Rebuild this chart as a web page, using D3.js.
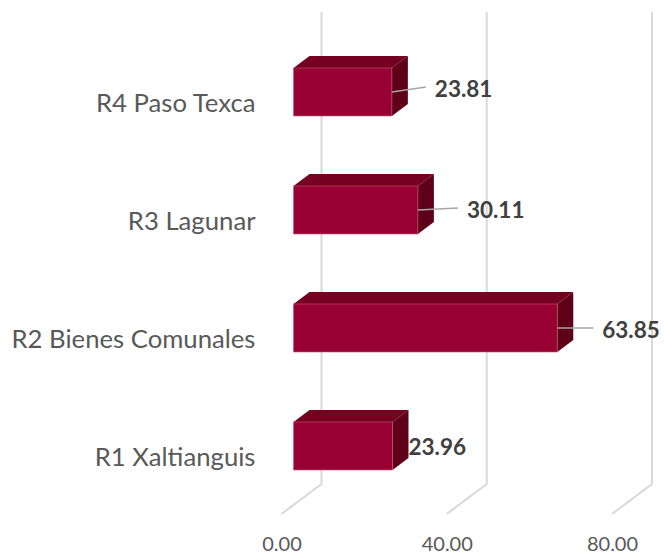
<!DOCTYPE html>
<html>
<head>
<meta charset="utf-8">
<script src="https://cdn.jsdelivr.net/npm/d3@7"></script>
<style>
  body { margin: 0; background: #fff; }
  svg { display: block; font-family: Lato, "Open Sans", sans-serif; }
</style>
</head>
<body>
<div id="chart"></div>
<script>
// data
const categories = ["R1 Xaltianguis", "R2 Bienes Comunales", "R3 Lagunar", "R4 Paso Texca"];
const values = [23.96, 63.85, 30.11, 23.81];
const tickValues = [0, 40, 80];

// manual data label shifts (Excel moved labels), px from bar front edge
const labelShift = [{dx: 16, dy: 1}, {dx: 45, dy: 2}, {dx: 49, dy: 0}, {dx: 43, dy: -3}];

const width = 665, height = 554;
const back = {top: 12, bottom: 484, left: 321.5, right: 652};
const depth = {dx: -40, dy: 30};   // back wall -> front of floor
const barFront = 0.7, barBack = 0.3; // bar depth position (0 = back wall)
const barH = 48;

const svg = d3.select("#chart").append("svg")
    .attr("width", width).attr("height", height);

// x scale on the back wall
const x = d3.scaleLinear().domain([0, 80]).range([back.left, back.right]);
const y = d3.scaleBand()
    .domain(categories.slice().reverse())
    .range([back.top, back.bottom]);

// gridlines: back wall + floor diagonal
svg.append("g").selectAll("path")
    .data(tickValues)
    .join("path")
    .attr("d", d => `M${x(d)},${back.top}V${back.bottom}l${depth.dx},${depth.dy}`)
    .attr("fill", "none")
    .attr("stroke", "#d9d9d9")
    .attr("stroke-width", 2);

// axis labels at the front edge of the floor
const xFront = x.copy().range([back.left + depth.dx, back.right + depth.dx]);
const axis = svg.append("g")
    .attr("transform", `translate(0,${back.bottom + depth.dy + 20})`)
    .call(d3.axisBottom(xFront).tickValues(tickValues).tickSize(0).tickFormat(d3.format(".2f")));
axis.select(".domain").remove();
axis.selectAll("text")
    .attr("font-family", "Lato, sans-serif")
    .attr("font-size", 20)
    .attr("fill", "#595959");

// category labels
svg.append("g").selectAll("text")
    .data(categories)
    .join("text")
    .attr("x", back.left + depth.dx - 26)
    .attr("y", d => y(d) + y.bandwidth() / 2 + depth.dy + 2)
    .attr("dy", "0.35em")
    .attr("text-anchor", "end")
    .attr("font-size", 25.7)
    .attr("fill", "#595959")
    .text(d => d);

// 3D bars
const fx = barFront * depth.dx, fy = barFront * depth.dy;
const bx = barBack * depth.dx, by = barBack * depth.dy;
const sx = bx - fx, sy = by - fy;

const bars = svg.append("g").selectAll("g")
    .data(categories.map((c, i) => ({cat: c, v: values[i], i: i})))
    .join("g");

bars.each(function(d) {
    const g = d3.select(this);
    const x0 = x(0) + fx, x1 = x(d.v) + fx;
    const yt = y(d.cat) + y.bandwidth() / 2 - barH / 2 + fy;
    const yb = yt + barH;
    // top face
    g.append("path")
        .attr("d", `M${x0},${yt}L${x0 + sx},${yt + sy}L${x1 + sx},${yt + sy}L${x1},${yt}Z`)
        .attr("fill", "#76001f");
    // side face
    g.append("path")
        .attr("d", `M${x1},${yt}L${x1 + sx},${yt + sy}L${x1 + sx},${yb + sy}L${x1},${yb}Z`)
        .attr("fill", "#5e0019");
    // front face
    g.append("rect")
        .attr("x", x0).attr("y", yt)
        .attr("width", x1 - x0).attr("height", barH)
        .attr("fill", "#990033")
        .attr("stroke", "#c4587c")
        .attr("stroke-opacity", 0.6)
        .attr("stroke-width", 1);
});

// data labels with leader lines
bars.each(function(d) {
    const g = d3.select(this);
    const s = labelShift[d.i];
    const xe = x(d.v) + fx;
    const yc = y(d.cat) + y.bandwidth() / 2 + fy;
    const lx = xe + s.dx, ly = yc + s.dy;
    if (s.dx > 25) {
        g.append("line")
            .attr("x1", xe).attr("y1", yc)
            .attr("x2", lx - 9).attr("y2", ly - 2)
            .attr("stroke", "#a6a6a6")
            .attr("stroke-width", 1.5);
    }
    g.append("text")
        .attr("x", lx)
        .attr("y", ly)
        .attr("dy", "0.35em")
        .attr("font-size", 22.5)
        .attr("font-weight", "bold")
        .attr("fill", "#404040")
        .text(d3.format(".2f")(d.v));
});
</script>
</body>
</html>
